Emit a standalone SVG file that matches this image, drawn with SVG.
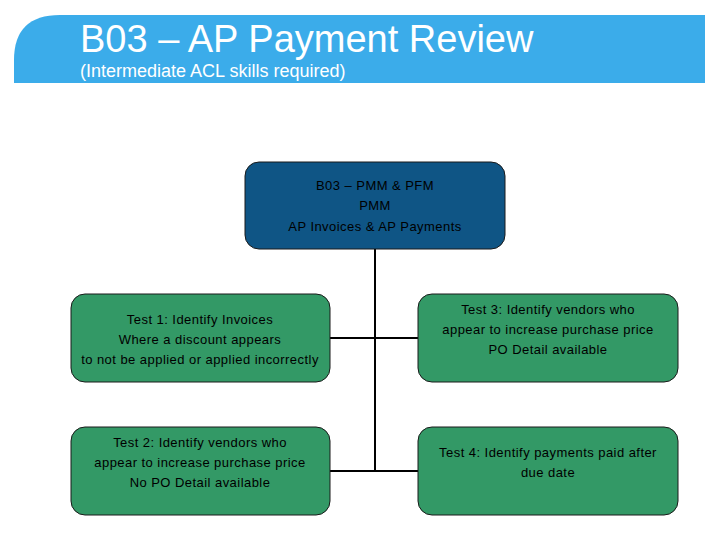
<svg xmlns="http://www.w3.org/2000/svg" width="720" height="540" viewBox="0 0 720 540">
<style>
.node{stroke:#1a1a1a;stroke-width:1}
.green{fill:#339966}
.blue{fill:#0F5585}
.t{font-family:"Liberation Sans",Arial,sans-serif;font-size:13px;letter-spacing:0.45px;fill:#000;text-anchor:middle}
.conn{stroke:#000;stroke-width:2;fill:none}
</style>
<rect width="720" height="540" fill="#fff"/>
<g id="header">
<path d="M14,83 L14,60 Q14,15 60,15 L705,15 L705,83 Z" fill="#3BACEA"/>
<text x="80" y="52" font-family="Liberation Sans,Arial,sans-serif" font-size="38" fill="#fff">B03 – AP Payment Review</text>
<text x="80" y="77" font-family="Liberation Sans,Arial,sans-serif" font-size="18" fill="#fff">(Intermediate ACL skills required)</text>
</g>
<g id="connectors">
<path class="conn" d="M375,249 V471"/>
<path class="conn" d="M330,338 H418"/>
<path class="conn" d="M330,471 H418"/>
</g>
<g id="root">
<rect class="node blue" x="245" y="162" width="260" height="87" rx="14"/>
<text class="t" x="375" y="190">B03 – PMM &amp; PFM</text>
<text class="t" x="375" y="210">PMM</text>
<text class="t" x="375" y="231">AP Invoices &amp; AP Payments</text>
</g>
<g id="test1">
<rect class="node green" x="71" y="294" width="259" height="88" rx="14"/>
<text class="t" x="200" y="324">Test 1: Identify Invoices</text>
<text class="t" x="200" y="344">Where a discount appears</text>
<text class="t" x="200" y="364">to not be applied or applied incorrectly</text>
</g>
<g id="test2">
<rect class="node green" x="71" y="427" width="259" height="88" rx="14"/>
<text class="t" x="200" y="447">Test 2: Identify vendors who</text>
<text class="t" x="200" y="467">appear to increase purchase price</text>
<text class="t" x="200" y="487">No PO Detail available</text>
</g>
<g id="test3">
<rect class="node green" x="418" y="294" width="260" height="88" rx="14"/>
<text class="t" x="548" y="314">Test 3: Identify vendors who</text>
<text class="t" x="548" y="334">appear to increase purchase price</text>
<text class="t" x="548" y="354">PO Detail available</text>
</g>
<g id="test4">
<rect class="node green" x="418" y="427" width="260" height="88" rx="14"/>
<text class="t" x="548" y="457">Test 4: Identify payments paid after</text>
<text class="t" x="548" y="477">due date</text>
</g>
</svg>
